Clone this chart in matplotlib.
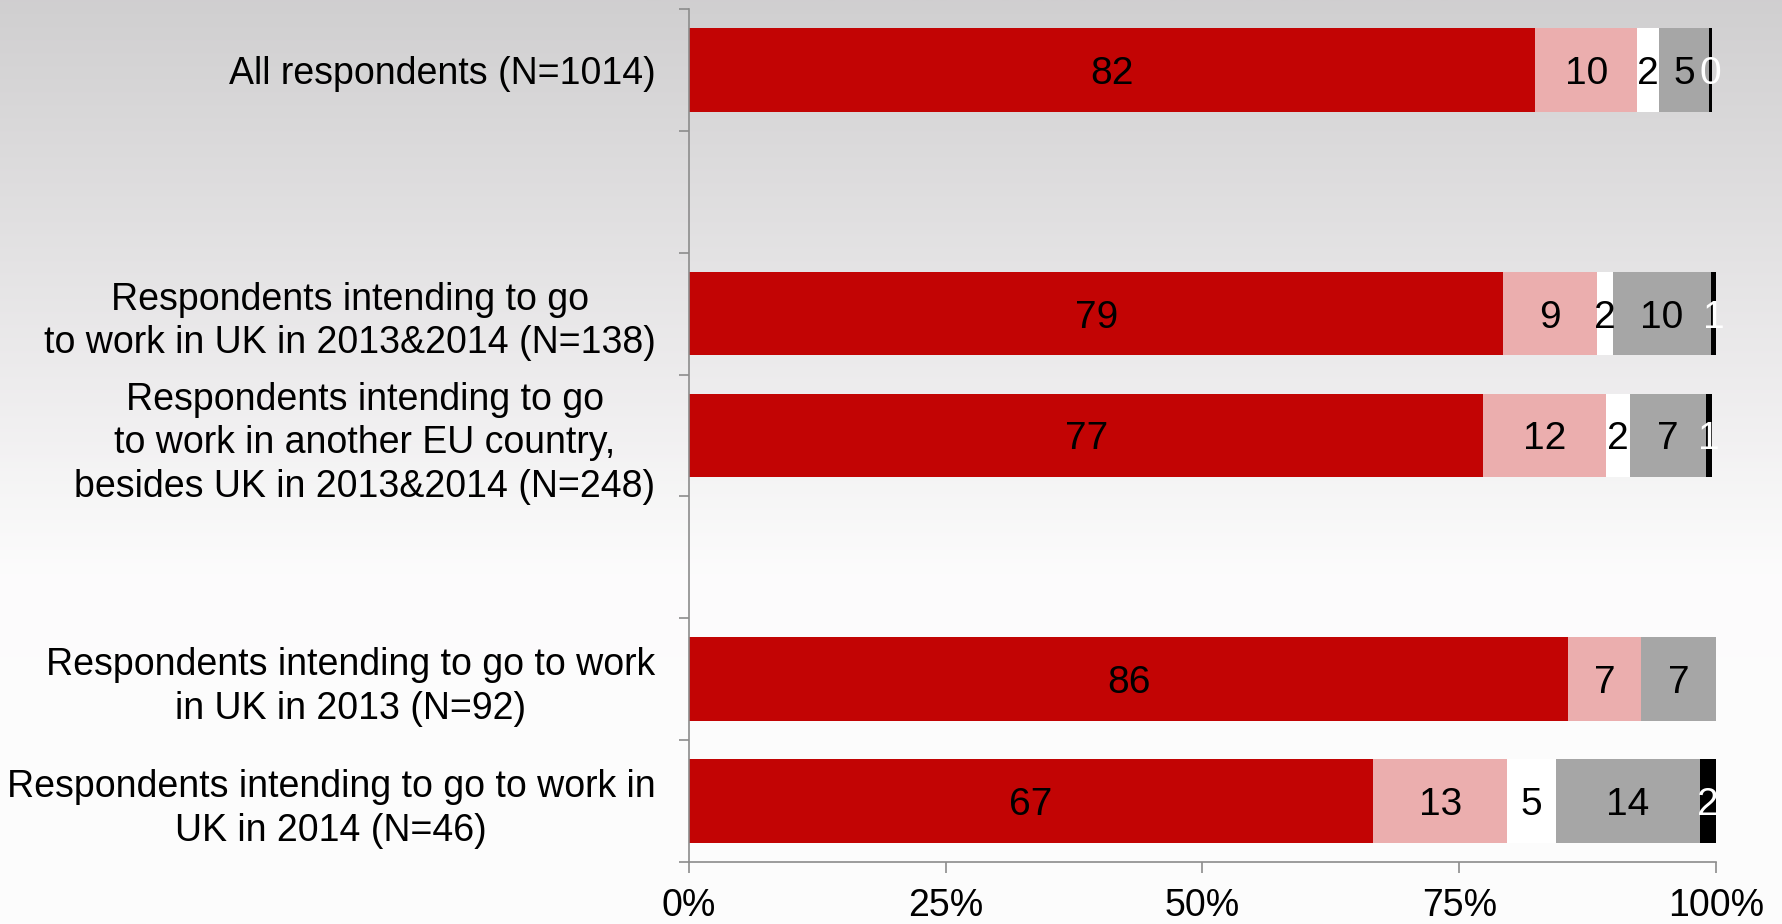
import numpy as np
import matplotlib
matplotlib.use("Agg")
from matplotlib import pyplot as plt

plt.rcParams['font.family'] = ['Liberation Sans', 'DejaVu Sans']

##################################################
# Data (percent of respondents, top row first; None = empty slot)

categories = [
    "All respondents (N=1014)",
    None,
    "Respondents intending to go\nto work in UK in 2013&2014 (N=138)",
    "Respondents intending to go\nto work in another EU country,\nbesides UK in 2013&2014 (N=248)",
    None,
    "Respondents intending to go to work\nin UK in 2013 (N=92)",
    "Respondents intending to go to work in\nUK in 2014 (N=46)",
]

seg_red   = [82.4, 0, 79.3, 77.35, 0, 85.6, 66.6]
seg_pink  = [9.95, 0, 9.1, 11.95, 0, 7.1, 13.1]
seg_white = [2.1, 0, 1.55, 2.35, 0, 0.0, 4.7]
seg_gray  = [4.85, 0, 9.55, 7.4, 0, 7.3, 14.0]
seg_black = [0.3, 0, 0.55, 0.6, 0, 0.0, 1.6]

series = [seg_red, seg_pink, seg_white, seg_gray, seg_black]
colors = ["#C20404", "#EBAEAE", "#FFFFFF", "#A6A6A6", "#000000"]
text_colors = ["black", "black", "black", "black", "white"]

xticks = [0, 25, 50, 75, 100]
xtick_labels = ["0%", "25%", "50%", "75%", "100%"]

##################################################
# Figure and gradient background

fig = plt.figure(figsize=(17.83, 9.24), dpi=100)

bg = fig.add_axes([0, 0, 1, 1], zorder=-1)
yy = np.linspace(0, 1, 400)
grey = np.interp(yy, [0, 0.45, 0.62, 1], [208, 240, 252, 253]) / 255.0
grad = np.stack([grey, grey * 0.995 + 0.004 * (yy > 0.5), grey], axis=1)
grad = np.clip(grad, 0, 1)
bg.imshow(grad[:, None, :], aspect="auto", extent=[0, 1, 1, 0])
bg.set_axis_off()

ax = fig.add_axes([0.3864, 0.0671, 0.576, 0.9232])
ax.set_facecolor("none")

##################################################
# Stacked bars

rows = [i for i, c in enumerate(categories) if c is not None]
left = np.zeros(len(categories))
for vals, col, tcol in zip(series, colors, text_colors):
    vals = np.array(vals, dtype=float)
    ax.barh(rows, vals[rows], left=left[rows], height=0.685, color=col,
            edgecolor="none")
    for r in rows:
        v = vals[r]
        if v > 0:
            ax.text(left[r] + v / 2, r, f"{v:.0f}", ha="center",
                    va="center_baseline", fontsize=28, color=tcol)
    left += vals

##################################################
# Axes styling

ax.set_xlim(0, 100)
ax.set_ylim(len(categories) - 0.5, -0.5)

ax.set_xticks(xticks)
ax.set_xticklabels(xtick_labels, fontsize=27)
ax.tick_params(axis="x", direction="out", length=8, width=1.2, color="#8C8C8C",
               pad=11)

ax.set_yticks(rows)
ax.set_yticklabels([categories[r] for r in rows], fontsize=27,
                   multialignment="center", linespacing=1.27)
ax.set_yticks(np.arange(-0.5, len(categories)), minor=True)
ax.tick_params(axis="y", which="major", length=0, pad=24)
ax.tick_params(axis="y", which="minor", direction="out", length=7, width=1.2,
               color="#8C8C8C")

for s in ["top", "right"]:
    ax.spines[s].set_visible(False)
for s in ["left", "bottom"]:
    ax.spines[s].set_color("#8C8C8C")
    ax.spines[s].set_linewidth(1.2)

fig.savefig("out.png", dpi=100)
